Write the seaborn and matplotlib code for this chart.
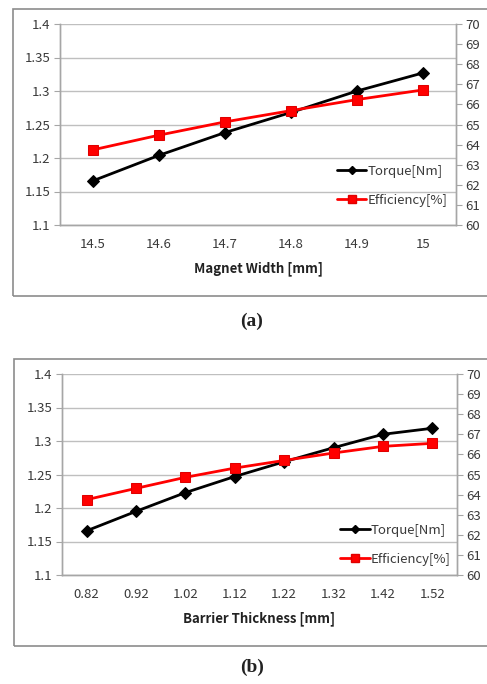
import numpy as np
import pandas as pd
import matplotlib
matplotlib.use('Agg')
import matplotlib.pyplot as plt
import matplotlib.patches as patches
from matplotlib.lines import Line2D
import seaborn as sns

# Values
width_labels = ['14.5', '14.6', '14.7', '14.8', '14.9', '15']
width_torque = [1.166, 1.204, 1.238, 1.268, 1.300, 1.327]
width_eff = [63.74, 64.47, 65.13, 65.69, 66.24, 66.72]

barrier_labels = ['0.82', '0.92', '1.02', '1.12', '1.22', '1.32', '1.42', '1.52']
barrier_torque = [1.166, 1.195, 1.223, 1.247, 1.269, 1.290, 1.310, 1.319]
barrier_eff = [63.75, 64.31, 64.86, 65.32, 65.70, 66.07, 66.40, 66.55]

sns.set_style('white')
plt.rcParams['font.family'] = ['Noto Sans CJK KR', 'DejaVu Sans']

GRID = '#BFBFBF'
SPINE = '#A6A6A6'
TXT = '#3A3A3A'


def draw_panel(fig, rect, labels, torque, eff, xlabel, leg_anchor):
    df = pd.DataFrame({'x': labels, 'torque': torque, 'eff': eff})
    n = len(labels)
    ax = fig.add_axes(rect)
    ax2 = ax.twinx()

    sns.lineplot(data=df, x='x', y='torque', ax=ax, color='black', marker='D',
                 markersize=6.5, linewidth=2, sort=False, markeredgecolor='black')
    sns.lineplot(data=df, x='x', y='eff', ax=ax2, color='#FF0000', marker='s',
                 markersize=7, linewidth=2, sort=False, markeredgecolor='#E00000')

    ax.set_ylim(1.1, 1.4)
    ax.set_yticks(np.arange(1.1, 1.4001, 0.05))
    ax.set_yticklabels(['1.1', '1.15', '1.2', '1.25', '1.3', '1.35', '1.4'])
    ax2.set_ylim(60, 70)
    ax2.set_yticks(np.arange(60, 71, 1))
    ax.set_xlim(-0.5, n - 0.5)
    ax.set_xticks(range(n))
    ax.set_xticklabels(labels)
    ax.set_xticks(np.arange(-0.5, n, 1), minor=True)

    ax.yaxis.grid(True, color=GRID, linewidth=1)
    ax.set_axisbelow(True)
    ax.set_ylabel('')
    ax2.set_ylabel('')
    ax.set_xlabel(xlabel, fontsize=9.5, fontweight='bold', color='#222222', labelpad=8)

    for a in (ax, ax2):
        for s in a.spines.values():
            s.set_color(SPINE)
            s.set_linewidth(1)
        a.spines['top'].set_visible(False)
    ax.tick_params(axis='x', which='major', length=0, pad=9, labelsize=9.5, colors=TXT)
    ax.tick_params(axis='x', which='minor', length=4, color=SPINE, direction='out')
    ax.tick_params(axis='y', length=4, color=SPINE, labelsize=9.5, colors=TXT, pad=3)
    ax2.tick_params(axis='y', length=4, color=SPINE, labelsize=9.5, colors=TXT, pad=3)

    handles = [
        Line2D([], [], color='black', marker='D', markersize=4.5, linewidth=2),
        Line2D([], [], color='#FF0000', marker='s', markersize=6, linewidth=2,
               markeredgecolor='#E00000'),
    ]
    ax2.legend(handles, ['Torque[Nm]', 'Efficiency[%]'], loc='upper left',
               bbox_to_anchor=leg_anchor, frameon=False, fontsize=9.5,
               handlelength=2.2, handletextpad=0.1, labelspacing=1.2,
               borderpad=0, borderaxespad=0, labelcolor=TXT)
    return ax


W, H = 487, 684
fig = plt.figure(figsize=(W / 100, H / 100), dpi=100)


def px_rect(left, top, right, bottom):
    return [left / W, 1 - bottom / H, (right - left) / W, (bottom - top) / H]


draw_panel(fig, px_rect(60, 24, 456, 225), width_labels, width_torque, width_eff,
           'Magnet Width [mm]', (0.70, 0.30))
draw_panel(fig, px_rect(62, 374, 457, 575), barrier_labels, barrier_torque, barrier_eff,
           'Barrier Thickness [mm]', (0.705, 0.255))

# Panel frames
for top, bottom, left in [(9, 296, 13), (359, 646, 14)]:
    fig.patches.append(patches.Rectangle((left / W, 1 - bottom / H), 1.2, (bottom - top) / H,
                                         transform=fig.transFigure, fill=False,
                                         edgecolor='#8C8C8C', linewidth=1.2))

fig.text(252 / W, 1 - 321 / H, '(a)', ha='center', va='center', fontsize=14,
         fontweight='bold', family='Liberation Serif', color='#222222')
fig.text(252 / W, 1 - 667 / H, '(b)', ha='center', va='center', fontsize=14,
         fontweight='bold', family='Liberation Serif', color='#222222')

fig.savefig('out.png', dpi=100)
